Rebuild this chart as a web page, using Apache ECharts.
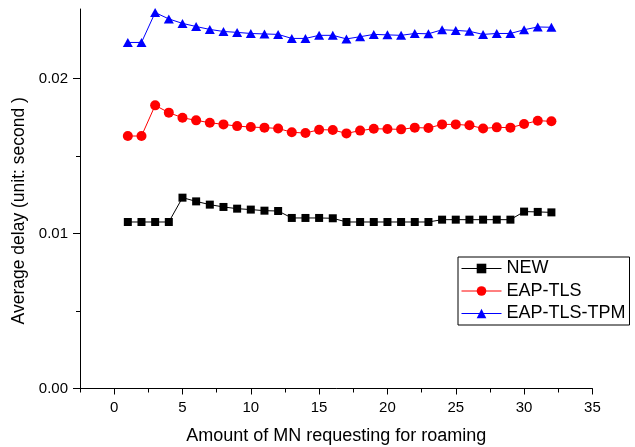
<!DOCTYPE html>
<html>
<head>
<meta charset="utf-8">
<script src="https://cdn.jsdelivr.net/npm/echarts@6.0.0/dist/echarts.min.js"></script>
<style>
	html, body { margin: 0; padding: 0; background: #fff; }
	#chart { width: 635px; height: 447px; }
</style>
</head>
<body>
<div id="chart"></div>
<script>
// amount of MN requesting for roaming
const amounts = [1, 2, 3, 4, 5, 6, 7, 8, 9, 10, 11, 12, 13, 14, 15, 16,
	17, 18, 19, 20, 21, 22, 23, 24, 25, 26, 27, 28, 29, 30, 31, 32]

// average delay (second)
const newDelay = [0.01075, 0.01075, 0.01075, 0.01075, 0.01232, 0.01208, 0.01187, 0.01172,
	0.01161, 0.01155, 0.01148, 0.01146, 0.01101, 0.01101, 0.01101, 0.01099,
	0.01075, 0.01075, 0.01075, 0.01075, 0.01075, 0.01075, 0.01075, 0.01090,
	0.01090, 0.01090, 0.01090, 0.01090, 0.01090, 0.01142, 0.01140, 0.01137]

const eapTlsDelay = [0.01630, 0.01630, 0.01828, 0.01781, 0.01748, 0.01731, 0.01716, 0.01705,
	0.01694, 0.01688, 0.01684, 0.01679, 0.01654, 0.01649, 0.01671, 0.01669,
	0.01647, 0.01665, 0.01677, 0.01675, 0.01673, 0.01684, 0.01682, 0.01705,
	0.01705, 0.01699, 0.01679, 0.01686, 0.01684, 0.01707, 0.01729, 0.01725]

const eapTlsTpmDelay = [0.02234, 0.02234, 0.02427, 0.02386, 0.02357, 0.02337, 0.02318, 0.02305,
	0.02299, 0.02292, 0.02289, 0.02286, 0.02260, 0.02260, 0.02280, 0.02280,
	0.02257, 0.02271, 0.02286, 0.02283, 0.02280, 0.02292, 0.02290, 0.02316,
	0.02312, 0.02306, 0.02286, 0.02292, 0.02292, 0.02316, 0.02334, 0.02332]

// ticks
const xMajorTicks = [0, 5, 10, 15, 20, 25, 30, 35]
const xMinorTicks = [-2.5, 2.5, 7.5, 12.5, 17.5, 22.5, 27.5, 32.5]
const yMajorTicks = [0, 0.01, 0.02]
const yMinorTicks = [0.005, 0.015]

const font = 'Liberation Sans, Arial, sans-serif'

const seriesStyles = [
	{ name: 'NEW', values: newDelay, color: '#000000', symbol: 'rect', size: 8 },
	{ name: 'EAP-TLS', values: eapTlsDelay, color: '#ff0000', symbol: 'circle', size: 10 },
	{ name: 'EAP-TLS-TPM', values: eapTlsTpmDelay, color: '#0000ff', symbol: 'triangle', size: [10, 9] }
]

function pairs(values) {
	return values.map((v, i) => [amounts[i], v])
}

function xAxisDef(ticks, length, main) {
	return {
		type: 'value',
		position: 'bottom',
		min: -2.5,
		max: 35,
		name: main ? 'Amount of MN requesting for roaming' : '',
		nameLocation: 'middle',
		nameGap: 39,
		nameTextStyle: { fontFamily: font, fontSize: 18, color: '#000' },
		axisLine: { show: main, onZero: false, lineStyle: { color: '#000', width: 1 } },
		axisTick: { show: true, inside: false, length: length, customValues: ticks, lineStyle: { color: '#000', width: 1 } },
		axisLabel: {
			show: main,
			customValues: ticks,
			margin: 12,
			fontFamily: font,
			fontSize: 15,
			color: '#000'
		},
		splitLine: { show: false }
	}
}

function yAxisDef(ticks, length, main) {
	return {
		type: 'value',
		position: 'left',
		min: 0,
		max: 0.0245,
		name: main ? 'Average delay (unit: second )' : '',
		nameLocation: 'middle',
		nameRotate: 90,
		nameGap: 50,
		nameTextStyle: { fontFamily: font, fontSize: 17.5, color: '#000', padding: [0, 24, 0, 0] },
		axisLine: { show: main, onZero: false, lineStyle: { color: '#000', width: 1 } },
		axisTick: { show: true, inside: false, length: length, customValues: ticks, lineStyle: { color: '#000', width: 1 } },
		axisLabel: {
			show: main,
			customValues: ticks,
			margin: 12,
			fontFamily: font,
			fontSize: 15,
			color: '#000',
			formatter: v => v.toFixed(2)
		},
		splitLine: { show: false }
	}
}

function lineSeries(s) {
	return {
		type: 'line',
		name: s.name,
		data: pairs(s.values),
		xAxisIndex: 0,
		yAxisIndex: 0,
		symbol: s.symbol,
		symbolSize: s.size,
		showAllSymbol: true,
		animation: false,
		lineStyle: { color: s.color, width: 1 },
		itemStyle: { color: s.color, borderWidth: 0 },
		emphasis: { disabled: true }
	}
}

const chart = echarts.init(document.getElementById('chart'))

chart.setOption({
	animation: false,
	backgroundColor: '#fff',
	grid: { left: 80, right: 42.6, top: 9, bottom: 58.5, containLabel: false, outerBoundsMode: 'none' },
	xAxis: [
		xAxisDef(xMajorTicks, 6, true),
		xAxisDef(xMinorTicks, 4, false)
	],
	yAxis: [
		yAxisDef(yMajorTicks, 7, true),
		yAxisDef(yMinorTicks, 4, false)
	],
	legend: {
		orient: 'vertical',
		left: 458,
		top: 257,
		padding: [2.5, 4, 2.5, 3],
		itemGap: 4.5,
		itemWidth: 40,
		itemHeight: 12,
		borderColor: '#000',
		borderWidth: 1,
		borderRadius: 0,
		textStyle: { fontFamily: font, fontSize: 18, lineHeight: 18, color: '#000' },
		data: seriesStyles.map(s => ({
			name: s.name,
			lineStyle: { color: s.color, width: 1 },
			itemStyle: { color: s.color, borderWidth: 0 }
		}))
	},
	series: seriesStyles.map(lineSeries)
})
</script>
</body>
</html>
